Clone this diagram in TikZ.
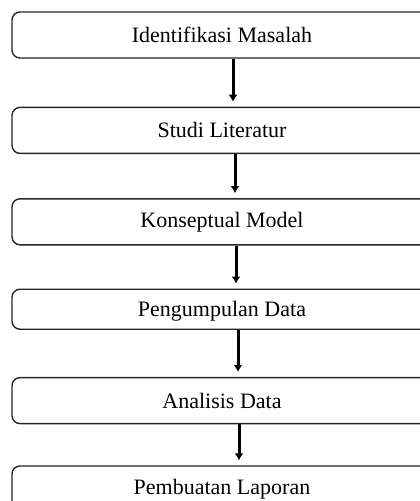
\documentclass[tikz,border=0pt]{standalone}
\usepackage{fontspec}
\setmainfont{Liberation Serif}
\usetikzlibrary{positioning,arrows.meta}

\begin{document}
\begin{tikzpicture}[x=1pt,y=1pt,
                stage/.style={draw=black!85,line width=1.4pt,rounded corners=8pt,
                              minimum width=420pt,minimum height=46pt,
                              font=\fontsize{22}{26}\selectfont},
                flow/.style={line width=3pt,-{Latex[length=7pt,width=9pt]},shorten >=5pt}]
                \useasboundingbox (0,0) rectangle (420,-501);
                \node[stage] (masalah) at (222,-35) {Identifikasi Masalah};
                \node[stage,below=48pt of masalah] (literatur) {Studi Literatur};
                \node[stage,below=44pt of literatur] (model) {Konseptual Model};
                \node[stage,below=43pt of model,minimum height=40pt,text depth=-3pt] (data) {Pengumpulan Data};
                \node[stage,below=47pt of data] (analisis) {Analisis Data};
                \node[stage,below=41pt of analisis] (laporan) {Pembuatan Laporan};
                % the arrows run a little right of the text centres
                \draw[flow] ([xshift=11pt]masalah.south) -- ([xshift=11pt]literatur.north);
                \draw[flow] ([xshift=13pt]literatur.south) -- ([xshift=13pt]model.north);
                \draw[flow] ([xshift=14pt]model.south) -- ([xshift=14pt]data.north);
                \draw[flow] ([xshift=16pt]data.south) -- ([xshift=16pt]analisis.north);
                \draw[flow] ([xshift=17pt]analisis.south) -- ([xshift=17pt]laporan.north);
            \end{tikzpicture}
\end{document}
